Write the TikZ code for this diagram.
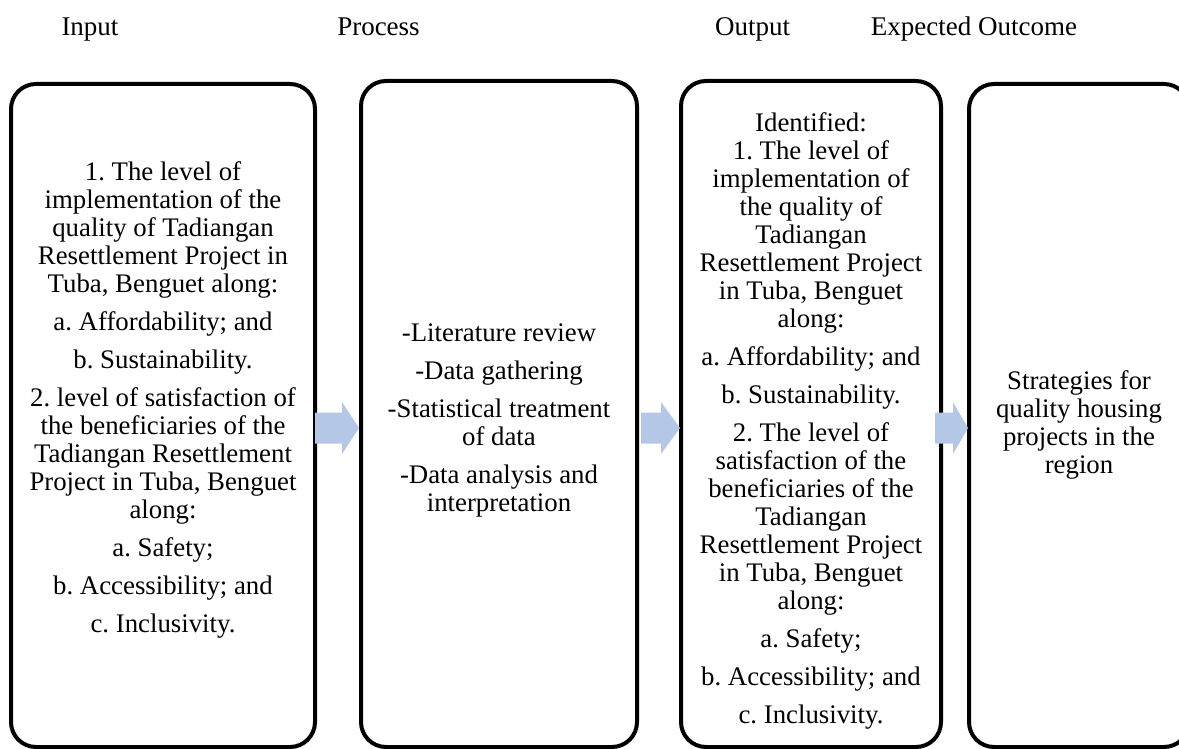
\documentclass[tikz,border=0pt]{standalone}
\usepackage{fontspec}
\setmainfont{Liberation Serif}
\usetikzlibrary{fit,calc}
\definecolor{arrowblue}{RGB}{180,199,231}
\tikzset{
  box/.style={draw=black, line width=2pt, rounded corners=12.5pt, inner sep=0pt, outer sep=0pt},
  headtext/.style={font=\fontsize{13.5}{16}\selectfont, anchor=base, inner sep=0pt},
  bodytext/.style={font=\fontsize{13.4}{14}\selectfont\frenchspacing, align=center, inner sep=0pt, anchor=base},
  flow/.style={fill=arrowblue, draw=none},
}
\newcommand\blockarrow[3]{%
  \fill[flow] ($(#1)+(0,-15.5)$) -- ($(#2)+(-#3,-15.5)$) -- ($(#2)+(-#3,-26)$) -- (#2)
    -- ($(#2)+(-#3,26)$) -- ($(#2)+(-#3,15.5)$) -- ($(#1)+(0,15.5)$) -- cycle;}
\begin{document}
\begin{tikzpicture}[x=0.5pt,y=-0.5pt]
\useasboundingbox (0,0) rectangle (1179,749);
\clip (0,0) rectangle (1179,749);

% headers
\node[headtext] (hin)  at (90,36)    {Input};
\node[headtext] (hpro) at (378.5,36) {Process};
\node[headtext] (hout) at (752.5,36) {Output};
\node[headtext] (hexp) at (974,36)   {Expected Outcome};

% boxes
\node[box, fit={(11,84) (315,747)}]   (b1) {};
\node[box, fit={(361,81) (637,747)}]  (b2) {};
\node[box, fit={(681,81) (941,747)}]  (b3) {};
\node[box, fit={(969,84) (1189,747)}] (b4) {};

% texts (anchored at the baseline of the last line)
\node[bodytext] (t1) at (163,632.7) {1. The level of\\ implementation of the\\ quality of Tadiangan\\ Resettlement Project in\\ Tuba, Benguet along:\\[5pt] a. Affordability; and\\[5pt] b. Sustainability.\\[5pt] 2. level of satisfaction of\\ the beneficiaries of the\\ Tadiangan Resettlement\\ Project in Tuba, Benguet\\ along:\\[5pt] a. Safety;\\[5pt] b. Accessibility; and\\[5pt] c. Inclusivity.};

\node[bodytext] (t2) at (499,511) {-Literature review\\[5pt] -Data gathering\\[5pt] -Statistical treatment\\ of data\\[5pt] -Data analysis and\\ interpretation};

\node[bodytext] (t3) at (811,723) {Identified:\\ 1. The level of\\ implementation of\\ the quality of\\ Tadiangan\\ Resettlement Project\\ in Tuba, Benguet\\ along:\\[5pt] a. Affordability; and\\[5pt] b. Sustainability.\\[5pt] 2. The level of\\ satisfaction of the\\ beneficiaries of the\\ Tadiangan\\ Resettlement Project\\ in Tuba, Benguet\\ along:\\[5pt] a. Safety;\\[5pt] b. Accessibility; and\\[5pt] c. Inclusivity.};

\node[bodytext] (t4) at (1079,473) {Strategies for\\ quality housing\\ projects in the\\ region};

% arrows
\coordinate (ay) at (0,428);
\coordinate (a1s) at (b1.east |- ay);
\coordinate (a1e) at ($(b2.west |- ay)+(-2,0)$);
\coordinate (a2s) at ($(b2.east |- ay)+(4,0)$);
\coordinate (a2e) at ($(b3.west |- ay)+(-1,0)$);
\coordinate (a3s) at ($(b3.east |- ay)+(-6,0)$);
\coordinate (a3e) at ($(b4.west |- ay)+(-1,0)$);
\blockarrow{a1s}{a1e}{17}
\blockarrow{a2s}{a2e}{19}
\blockarrow{a3s}{a3e}{15}
\end{tikzpicture}
\end{document}
